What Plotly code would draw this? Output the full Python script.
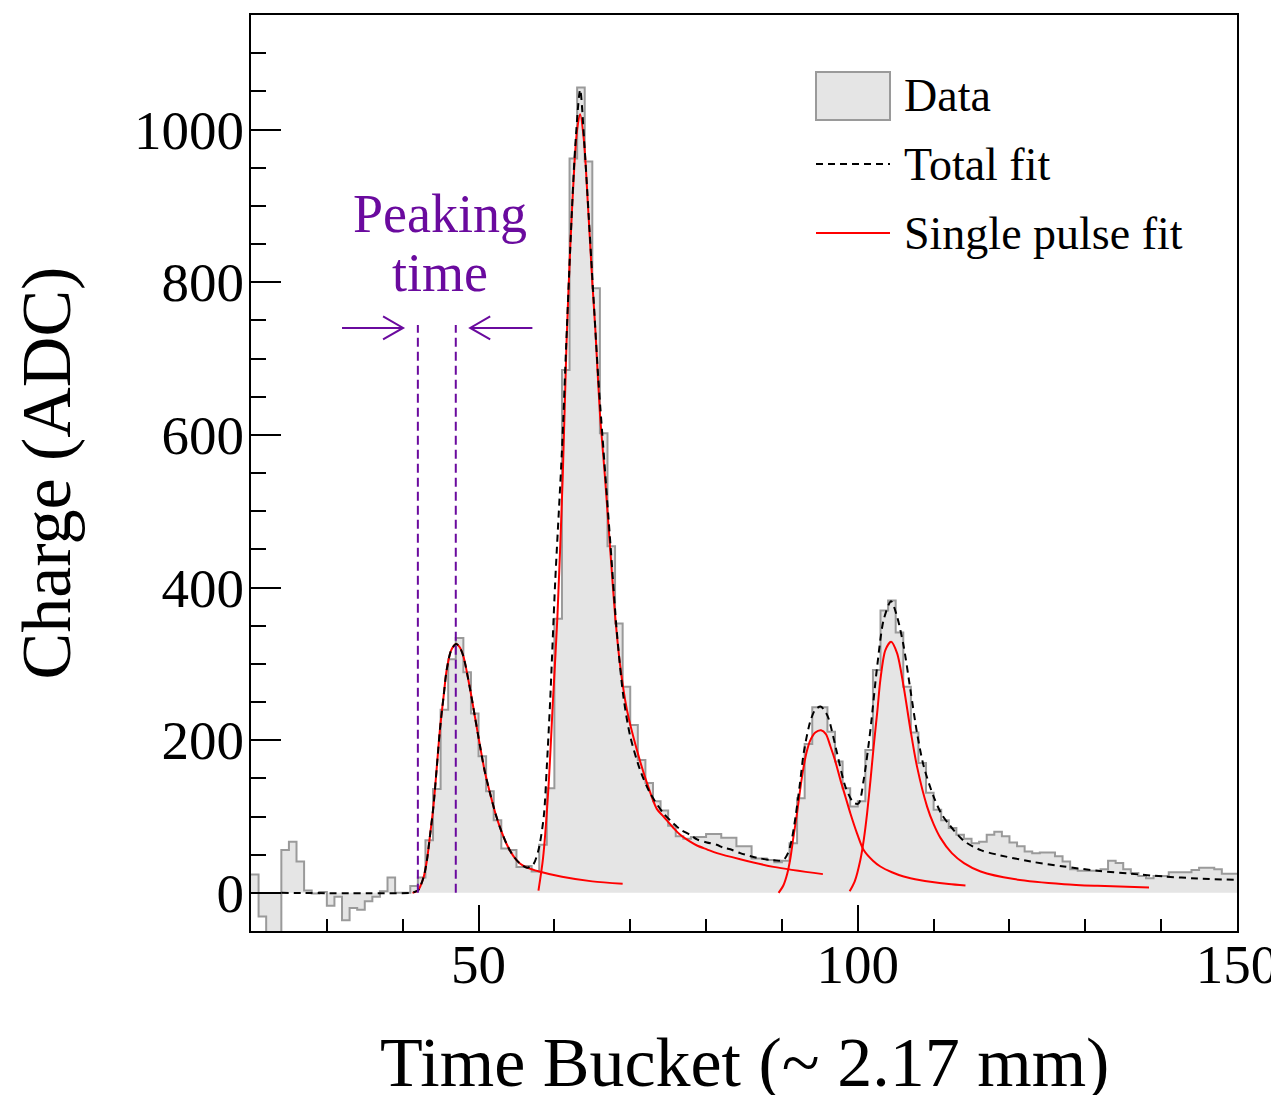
import plotly.graph_objects as go

# ---------------- data ----------------
bin_lo = 20
bin_hi = 150
hist_values = [
    24, -31, -60, -60, 56, 67, 41, 3, -1, 1,            # 20-29
    -17, -5, -36, -20, -22, -11, -5, 2, 20, 0,          # 30-39
    0, 9, 20, 69, 136, 240, 306, 334, 289, 235,         # 40-49
    179, 133, 95, 58, 56, 34, 35, 28, 63, 137,          # 50-59
    359, 685, 962, 1055, 958, 792, 602, 454, 353, 270,  # 60-69
    220, 174, 144, 120, 108, 88, 74, 71, 73, 73,        # 70-79
    77, 77, 72, 72, 61, 61, 45, 45, 43, 40,             # 80-89
    42, 65, 124, 195, 243, 243, 211, 172, 137, 113,     # 90-99
    120, 187, 292, 370, 383, 341, 270, 210, 170, 131,   # 100-109
    109, 95, 85, 76, 71, 65, 67, 76, 80, 74,            # 110-119
    66, 61, 54, 52, 53, 53, 48, 41, 31, 29,             # 120-129
    29, 29, 31, 42, 39, 31, 26, 22, 19, 22,             # 130-139
    22, 27, 27, 27, 30, 33, 33, 31, 25, 25,             # 140-149
]

pulse1_x = [41.3, 42.0, 42.3, 42.8, 43.2, 43.6, 44.05, 44.5, 44.9, 45.4, 45.8, 46.4, 47.05,
            47.5, 48.0, 48.9, 49.5, 50.2, 50.8, 51.5, 52.2, 52.85, 53.7, 54.6, 55.5, 56.4,
            58.0, 61.0, 65.0, 69.0]
pulse1_y = [0, 3, 8, 22, 43, 75, 113, 165, 213, 258, 292, 318, 326,
            322, 310, 266, 232, 192, 160, 131, 105, 85, 64, 48, 38, 33,
            28, 21, 15, 12]

pulse2_x = [57.9, 58.5, 59.2, 59.8, 60.4, 61.1, 61.6, 62.1, 62.65, 63.0, 63.4,
            63.9, 64.4, 65.0, 65.4, 66.0, 66.7, 67.36, 68.02, 68.68, 69.56, 70.88,
            72.2, 73.5, 74.39, 75.7, 76.6, 77.9, 78.8, 80.1, 81.44, 84.5, 88.9, 95.4]
pulse2_y = [3, 45, 135, 250, 362, 545, 720, 847, 956, 1000, 1020,
            985, 905, 800, 738, 629, 541, 450, 362, 297, 240, 187,
            144, 110, 100, 85, 76, 67, 62, 57, 52, 44, 34, 24.5]

pulse3_x = [89.56, 90.2, 90.7, 91.11, 91.5, 91.99, 92.4, 92.86, 93.3, 93.75, 94.4, 95.16,
            95.8, 96.39, 97.05, 97.71, 98.4, 99.03, 99.9, 100.78, 102.0, 102.98, 104.5,
            106.05, 108.3, 109.57, 112.0, 114.2]
pulse3_y = [0, 10, 25, 45, 72, 104, 135, 165, 186, 200, 210, 213,
            208, 192, 172, 148, 125, 104, 78, 56, 42, 34.5, 27,
            21.4, 16.5, 14.5, 11.5, 9.5]

pulse4_x = [98.93, 99.6, 100.34, 100.8, 101.23, 101.7, 102.1, 102.6, 102.98, 103.64, 104.39,
            105.18, 106.05, 106.94, 107.82, 109.14, 110.0, 110.9, 112.4, 114.0, 116.2,
            120.6, 127.2, 131.6, 138.4]
pulse4_y = [2, 15, 43, 70, 104, 150, 192, 240, 279, 318, 329,
            314, 270, 214, 165, 113, 90, 72, 52, 39, 28,
            18, 11.4, 9.2, 7]

total_x = [24.0, 41.0, 41.5, 42.0, 42.3, 42.8, 43.2, 43.6, 44.05, 44.5, 44.9, 45.4, 45.8,
           46.4, 47.05, 47.5, 48.0, 48.9, 49.5, 50.2, 50.8, 51.5, 52.2, 52.85, 53.7, 54.6,
           55.5, 56.4, 57.2, 57.9, 58.6, 59.0, 59.45, 60.1, 61.0, 61.55, 62.1, 62.75, 63.4,
           63.97, 64.5, 65.15, 65.8, 66.6, 67.4, 68.25, 69.1, 70.0, 71.3, 72.6, 74.4, 75.7,
           76.6, 77.9, 78.8, 80.1, 81.4, 82.3, 83.2, 84.5, 86.7, 88.5, 90.2, 90.8, 91.3,
           91.8, 92.4, 92.9, 93.75, 94.4, 95.1, 95.8, 96.2, 97.27, 98.37, 99.46, 100.1,
           100.78, 101.66, 102.55, 103.42, 104.39, 105.18, 106.05, 106.94, 107.82, 108.69,
           110.0, 111.0, 112.0, 114.0, 116.2, 118.4, 122.8, 127.2, 131.6, 136.0, 140.4,
           144.8, 150.0]
total_y = [0, 0, 1, 3, 8, 22, 43, 75, 113, 165, 213, 258, 292,
           318, 326, 322, 310, 266, 232, 192, 160, 131, 105, 85, 64, 48,
           38, 33, 37, 56, 100, 165, 253, 406, 580, 716, 847, 978, 1052,
           978, 891, 781, 672, 563, 455, 340, 257, 205, 161, 131, 104, 91,
           83, 76, 70, 66, 63, 59, 57, 52, 46, 43, 43, 52, 70,
           100, 145, 185, 225, 240, 244, 236, 227, 183, 139, 118, 117,
           148, 213, 296, 358, 382, 362, 323, 266, 209, 166,
           126, 104, 90, 68, 56, 50, 41, 34.5, 29, 25, 21.4,
           18.8, 17]

peak_marker_x = [42.0, 47.0]
peak_marker_top = 744
arrow_y = 740
arrow_left = (32.0, 40.05)    # tail, head
arrow_right = (57.1, 48.9)    # tail, head

x_range = [20, 150]
y_range = [-50, 1150]

# ---------------- style ----------------
FONT = "Liberation Serif"
PURPLE = "#6a0a9e"
HIST_FILL = "#e5e5e5"
HIST_LINE = "#9a9a9a"

# page offset (browser body margin) compensation
OFF = 8
W, H = 1279 - OFF, 1095 - OFF
ML, MR, MT, MB = 251 - OFF, 42, 15 - OFF, 164
PW = W - ML - MR
PH = H - MT - MB

edges = list(range(bin_lo, bin_hi + 1))
step_y = hist_values + [hist_values[-1]]

fig = go.Figure()

fig.add_trace(go.Scatter(
    x=edges, y=step_y, mode="lines", line_shape="hv",
    line=dict(color=HIST_LINE, width=2),
    fill="tozeroy", fillcolor=HIST_FILL, name="Data", showlegend=False,
    hoverinfo="skip"))

for px_, py_ in [(pulse1_x, pulse1_y), (pulse2_x, pulse2_y),
                 (pulse3_x, pulse3_y), (pulse4_x, pulse4_y)]:
    fig.add_trace(go.Scatter(
        x=px_, y=py_, mode="lines", line_shape="spline",
        line=dict(color="#ff0000", width=2, smoothing=0.8),
        showlegend=False, hoverinfo="skip"))

fig.add_trace(go.Scatter(
    x=total_x, y=total_y, mode="lines", line_shape="spline",
    line=dict(color="black", width=2, dash="7px,5px", smoothing=0.8),
    showlegend=False, hoverinfo="skip"))

# peaking time markers
for xv in peak_marker_x:
    fig.add_trace(go.Scatter(
        x=[xv, xv], y=[0, peak_marker_top], mode="lines",
        line=dict(color=PURPLE, width=2, dash="9px,5px"),
        showlegend=False, hoverinfo="skip"))

shapes = []
# arrows: shaft + open chevron head
for tail, head in [arrow_left, arrow_right]:
    shapes.append(dict(type="line", xref="x", yref="y",
                       x0=tail, x1=head, y0=arrow_y, y1=arrow_y,
                       line=dict(color=PURPLE, width=2)))
    sgn = -1 if head > tail else 1
    shapes.append(dict(type="path", xref="x", yref="y",
                       xsizemode="pixel", ysizemode="pixel",
                       xanchor=head, yanchor=arrow_y,
                       path=f"M {sgn*20},-11.5 L 0,0 L {sgn*20},11.5",
                       line=dict(color=PURPLE, width=2)))

annotations = []
annotations.append(dict(
    x=44.9, y=889, xref="x", yref="y", text="Peaking", showarrow=False,
    font=dict(family=FONT, size=54, color=PURPLE), xanchor="center", yanchor="middle"))
annotations.append(dict(
    x=44.9, y=812, xref="x", yref="y", text="time", showarrow=False,
    font=dict(family=FONT, size=54, color=PURPLE), xanchor="center", yanchor="middle"))

# custom legend (paper coords, from screen pixels)
def pxx(p):
    return (p - OFF - ML) / PW

def pxy(p):
    return (MT + PH - (p - OFF)) / PH

shapes += [
    dict(type="rect", xref="paper", yref="paper",
         x0=pxx(816), x1=pxx(890), y0=pxy(120), y1=pxy(72),
         fillcolor=HIST_FILL, line=dict(color=HIST_LINE, width=2)),
    dict(type="line", xref="paper", yref="paper",
         x0=pxx(816), x1=pxx(890), y0=pxy(164), y1=pxy(164),
         line=dict(color="black", width=2, dash="7px,5px")),
    dict(type="line", xref="paper", yref="paper",
         x0=pxx(816), x1=pxx(890), y0=pxy(233), y1=pxy(233),
         line=dict(color="#ff0000", width=2)),
]
for label, yc in [("Data", 96), ("Total fit", 164), ("Single pulse fit", 233)]:
    annotations.append(dict(
        x=pxx(902), y=pxy(yc), xref="paper", yref="paper", text=label,
        showarrow=False, xanchor="left", yanchor="middle",
        font=dict(family=FONT, size=46, color="black")))

# x-axis title placed as paper annotation for exact vertical position
annotations.append(dict(
    x=0.5, y=pxy(1062), xref="paper", yref="paper", text="Time Bucket (~ 2.17 mm)",
    showarrow=False, xanchor="center", yanchor="middle",
    font=dict(family=FONT, size=70, color="black")))

fig.update_layout(
    width=W, height=H, autosize=False,
    margin=dict(l=ML, r=MR, t=MT, b=MB, autoexpand=False),
    paper_bgcolor="white", plot_bgcolor="white",
    font=dict(family=FONT, color="black"),
    shapes=shapes, annotations=annotations, showlegend=False,
)

fig.update_xaxes(
    range=x_range, showgrid=False, zeroline=False, automargin=False,
    showline=True, linecolor="black", linewidth=2, mirror=True,
    ticks="inside", ticklen=26, tickwidth=2, tickcolor="black",
    tick0=0, dtick=50,
    minor=dict(ticks="inside", ticklen=12, tickwidth=2, tickcolor="black", dtick=10, tick0=0),
    tickfont=dict(family=FONT, size=55, color="black"),
    ticklabelstandoff=-16,
)
fig.update_yaxes(
    range=y_range, showgrid=False, zeroline=False, automargin=False,
    showline=True, linecolor="black", linewidth=2, mirror=True,
    ticks="inside", ticklen=30, tickwidth=2, tickcolor="black",
    tick0=0, dtick=200,
    minor=dict(ticks="inside", ticklen=15, tickwidth=2, tickcolor="black", dtick=50, tick0=0),
    tickfont=dict(family=FONT, size=55, color="black"),
    ticklabelstandoff=-6,
    title=dict(text="Charge (ADC)", font=dict(family=FONT, size=70, color="black"),
               standoff=44),
)

fig.write_html("out.html")
